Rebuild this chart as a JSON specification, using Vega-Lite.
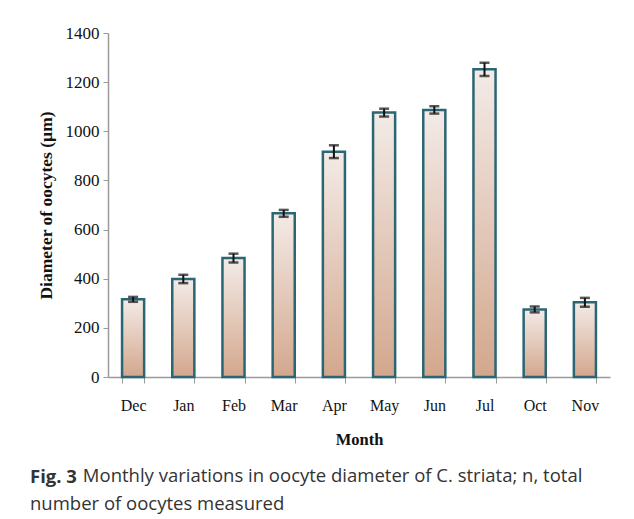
{
  "$schema": "https://vega.github.io/schema/vega-lite/v6.json",
  "autosize": {"type": "none"},
  "width": 502,
  "height": 344,
  "padding": {"left": 108, "top": 33, "right": 24, "bottom": 142},
  "background": "white",
  "title": {
    "text": "Fig. 3",
    "subtitle": ["\u200b\u00a0\u00a0\u00a0\u00a0\u00a0\u00a0\u00a0\u00a0\u00a0\u00a0\u00a0Monthly variations in oocyte diameter of C. striata; n, total", "number of oocytes measured"],
    "orient": "bottom",
    "anchor": "start",
    "frame": "group",
    "dx": -78,
    "offset": 20,
    "font": "Open Sans",
    "fontSize": 18.5,
    "fontWeight": "bold",
    "color": "#333333",
    "subtitleFont": "Open Sans",
    "subtitleFontSize": 18.5,
    "subtitleColor": "#333333",
    "subtitleLineHeight": 28,
    "subtitlePadding": -19
  },
  "data": {
    "values": [
      {"Month": "Dec", "diameter": 316, "se": 10},
      {"Month": "Jan", "diameter": 399, "se": 17},
      {"Month": "Feb", "diameter": 484, "se": 18},
      {"Month": "Mar", "diameter": 666, "se": 14},
      {"Month": "Apr", "diameter": 917, "se": 26},
      {"Month": "May", "diameter": 1076, "se": 16},
      {"Month": "Jun", "diameter": 1087, "se": 15},
      {"Month": "Jul", "diameter": 1252, "se": 27},
      {"Month": "Oct", "diameter": 275, "se": 12},
      {"Month": "Nov", "diameter": 304, "se": 18}
    ]
  },
  "encoding": {
    "x": {
      "field": "Month",
      "type": "nominal",
      "sort": null,
      "scale": {"paddingInner": 0.56, "paddingOuter": 0.28},
      "axis": {
        "title": "Month",
        "labelAngle": 0,
        "labelFont": "Liberation Serif",
        "labelFontSize": 16,
        "labelColor": "#111111",
        "labelPadding": 14,
        "titleFont": "Liberation Serif",
        "titleFontSize": 16.5,
        "titleFontWeight": "bold",
        "titleColor": "#111111",
        "titlePadding": 18,
        "tickBand": "extent",
        "tickSize": 6,
        "tickColor": "#9a9a9a",
        "domainColor": "#9a9a9a",
        "domainWidth": 1.5,
        "grid": false
      }
    }
  },
  "layer": [
    {
      "mark": {
        "type": "bar",
        "stroke": "#2b6675",
        "strokeWidth": 2.5,
        "fill": {
          "gradient": "linear",
          "x1": 0, "y1": 0, "x2": 0, "y2": 1,
          "stops": [
            {"offset": 0, "color": "#f3ebe7"},
            {"offset": 1, "color": "#d3a78d"}
          ]
        }
      },
      "encoding": {
        "y": {
          "field": "diameter",
          "type": "quantitative",
          "title": "Diameter of oocytes (µm)",
          "scale": {"domain": [0, 1400]},
          "axis": {
            "values": [0, 200, 400, 600, 800, 1000, 1200, 1400],
            "format": "d",
            "labelFont": "Liberation Serif",
            "labelFontSize": 17,
            "labelColor": "#111111",
            "labelPadding": 4,
            "titleFont": "Liberation Serif",
            "titleFontSize": 17.5,
            "titleFontWeight": "bold",
            "titleColor": "#111111",
            "titlePadding": 10,
            "tickSize": 5,
            "tickColor": "#9a9a9a",
            "domainColor": "#9a9a9a",
            "domainWidth": 1.5,
            "grid": false
          }
        }
      }
    },
    {
      "mark": {
        "type": "errorbar",
        "color": "#111111",
        "thickness": 2,
        "ticks": {"size": 10, "thickness": 2.5, "color": "#111111"}
      },
      "encoding": {
        "y": {"field": "diameter", "type": "quantitative", "title": "Diameter of oocytes (µm)"},
        "yError": {"field": "se"}
      }
    }
  ],
  "config": {"view": {"stroke": null}}
}
